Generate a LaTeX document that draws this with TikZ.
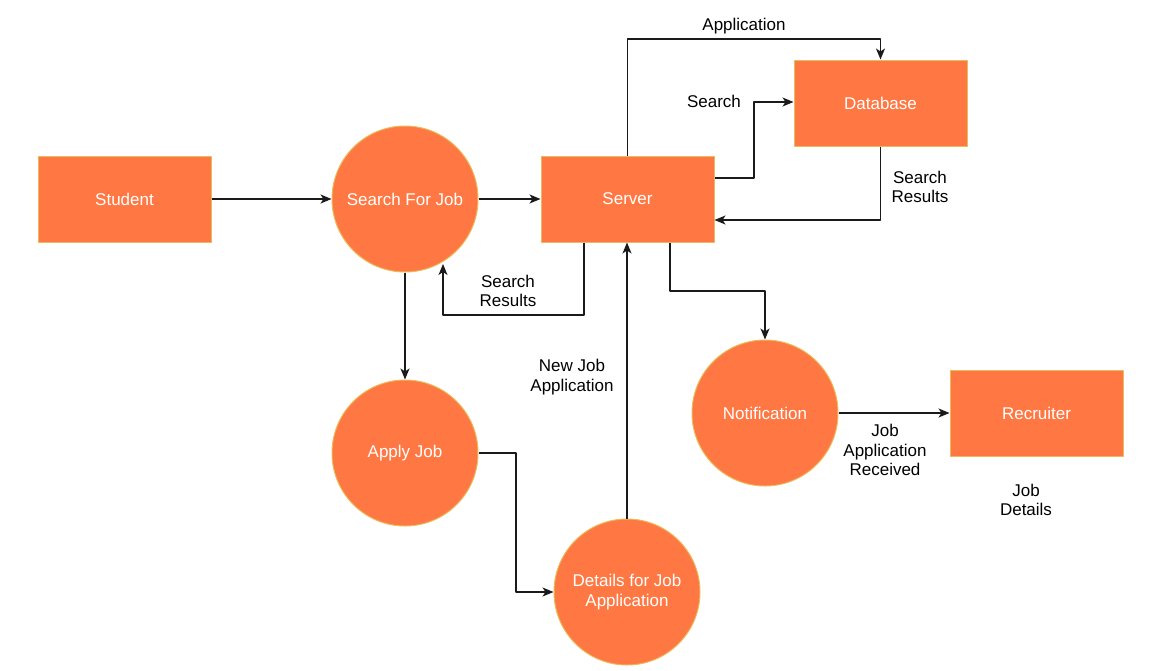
\documentclass[tikz,border=0pt]{standalone}
\usepackage{fontspec}
\setmainfont{Liberation Sans}
\usetikzlibrary{arrows.meta}
\definecolor{boxfill}{HTML}{FF7742}
\definecolor{boxline}{HTML}{E8BC5A}
\definecolor{wire}{HTML}{1A1A1A}
\tikzset{
	entity/.style={draw=boxline, fill=boxfill, line width=1pt, minimum width=173pt, minimum height=86pt, text=white, inner sep=0pt},
	process/.style={circle, draw=boxline, fill=boxfill, line width=1pt, minimum size=146pt, text=white, align=center, inner sep=0pt},
	flow/.style={->, draw=wire, line width=1.3pt},
	lbl/.style={align=center, text=black}
}
\begin{document}
\begin{tikzpicture}[x=1pt, y=-1pt, font=\fontsize{17}{19.5}\selectfont, line join=round, >={Stealth[length=11pt,width=9pt,inset=3pt]}]
				\useasboundingbox (0,0) rectangle (1170,670);
				% external entities and the store
				\node[entity] (student) at (124.5,199) {Student};
				\node[entity] (server) at (627.5,199) {Server};
				\node[entity] (db) at (880.5,103) {Database};
				\node[entity] (recruiter) at (1036.5,413) {Recruiter};
				% processes
				\node[process] (search) at (405,199) {Search For Job};
				\node[process] (apply) at (405,453) {Apply Job};
				\node[process] (details) at (627,592) {Details for Job\\Application};
				\node[process] (notify) at (765,413) {Notification};
				% flows
				\draw[flow] (student) -- (search);
				\draw[flow] (search) -- (server);
				\draw[flow] (server.north) |- (db.north |- 0,39) -- (db.north);
				\draw[flow] (server.east |- 0,178) -| (754,102) -- (db.west |- 0,102);
				\draw[flow] (db.south) |- (server.east |- 0,220);
				\draw[flow] (server.south -| 584,0) |- (443,315) -- (443,264);
				\draw[flow] (details) -- (server.south -| details.north);
				\draw[flow] (server.south -| 670,0) |- (notify.north |- 0,291) -- (notify.north);
				\draw[flow] (search) -- (apply);
				\draw[flow] (apply.east) -| (516,592) -- (details.west);
				\draw[flow] (notify.east) -- (recruiter.west);
				% flow labels
				\foreach \x/\y/\t in {744/26/Application, 714/101/Search, 920/187/Search\\Results, 508/291/Search\\Results, 572/377/New Job\\Application, 885/450/Job\\Application\\Received, 1026/500/Job\\Details}
				\node[lbl] at (\x,\y) {\t};
			\end{tikzpicture}
\end{document}
